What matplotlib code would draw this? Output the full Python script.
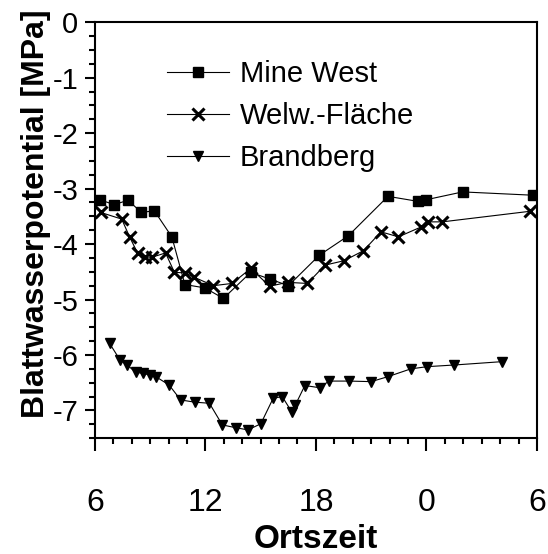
import numpy as np
import matplotlib
matplotlib.use('Agg')
import matplotlib.pyplot as plt
from matplotlib.ticker import MultipleLocator

plt.rcParams['font.family'] = ['Liberation Sans', 'DejaVu Sans']
plt.rcParams['axes.unicode_minus'] = False

# Mine West
mw_t = [6.27, 7.05, 7.8, 8.53, 9.23, 10.18, 10.89, 11.97, 12.98, 14.46,
        15.49, 16.51, 18.19, 19.76, 21.91, 23.53, 24.0, 25.96, 29.8]
mw_psi = [-3.20, -3.29, -3.21, -3.43, -3.40, -3.87, -4.73, -4.79, -4.98, -4.51,
          -4.63, -4.75, -4.20, -3.85, -3.14, -3.23, -3.20, -3.06, -3.12]

# Welw.-Fläche
wf_t = [6.32, 7.46, 7.9, 8.32, 8.7, 9.08, 9.84, 10.32, 10.89, 11.4, 12.44,
        13.45, 14.46, 15.49, 16.46, 17.54, 18.49, 19.53, 20.58, 21.53, 22.48,
        23.72, 24.1, 24.86, 29.6]
wf_psi = [-3.43, -3.55, -3.88, -4.16, -4.23, -4.24, -4.16, -4.51, -4.52, -4.60,
          -4.75, -4.71, -4.44, -4.76, -4.69, -4.71, -4.38, -4.30, -4.12, -3.78,
          -3.87, -3.69, -3.60, -3.60, -3.41]

# Brandberg
bb_t = [6.8, 7.37, 7.75, 8.22, 8.6, 8.98, 9.31, 10.03, 10.66, 11.42, 12.22,
        12.92, 13.64, 14.31, 15.01, 15.68, 16.17, 16.68, 16.87, 17.4, 18.2,
        18.71, 19.82, 21.0, 21.91, 23.15, 24.04, 25.52, 28.09]
bb_psi = [-5.79, -6.09, -6.18, -6.31, -6.33, -6.36, -6.39, -6.54, -6.81, -6.85,
          -6.87, -7.26, -7.31, -7.35, -7.24, -6.78, -6.75, -7.02, -6.91, -6.55,
          -6.59, -6.47, -6.47, -6.48, -6.39, -6.25, -6.21, -6.18, -6.12]

xticks = [6, 12, 18, 24, 30]
xticklabels = ['6', '12', '18', '0', '6']

fig = plt.figure(figsize=(5.48, 5.54), dpi=100)
ax = fig.add_axes([0.173, 0.209, 0.807, 0.751])

ax.plot(mw_t, mw_psi, color='black', linewidth=0.8, marker='s',
        markersize=7, label='Mine West')
ax.plot(wf_t, wf_psi, color='black', linewidth=0.8, marker='x',
        markersize=8.5, markeredgewidth=2.2, label='Welw.-Fläche')
ax.plot(bb_t, bb_psi, color='black', linewidth=0.8, marker='v',
        markersize=7, label='Brandberg')

ax.set_xlim(6, 30)
ax.set_ylim(-7.5, 0)
ax.set_xticks(xticks)
ax.set_xticklabels(xticklabels)
ax.xaxis.set_minor_locator(MultipleLocator(1))
ax.yaxis.set_major_locator(MultipleLocator(1))
ax.yaxis.set_minor_locator(MultipleLocator(0.25))

for s in ax.spines.values():
    s.set_linewidth(1.5)
ax.tick_params(axis='y', which='major', direction='out', length=7,
               width=1.5, labelsize=21, pad=5)
ax.tick_params(axis='x', which='major', direction='out', length=9,
               width=1.5, labelsize=23, pad=27)
ax.tick_params(axis='both', which='minor', direction='out', length=4,
               width=1.5)

ax.set_xlabel('Ortszeit', fontsize=24, fontweight='bold', labelpad=4)
ax.set_ylabel('Blattwasserpotential [MPa]', fontsize=23, fontweight='bold')
ax.yaxis.set_label_coords(-0.10, 0.54)

ax.legend(loc='upper left', bbox_to_anchor=(0.105, 0.971), frameon=False,
          fontsize=21, handlelength=2.1, handletextpad=0.38, labelspacing=0.48)

fig.savefig('out.png', dpi=100)
